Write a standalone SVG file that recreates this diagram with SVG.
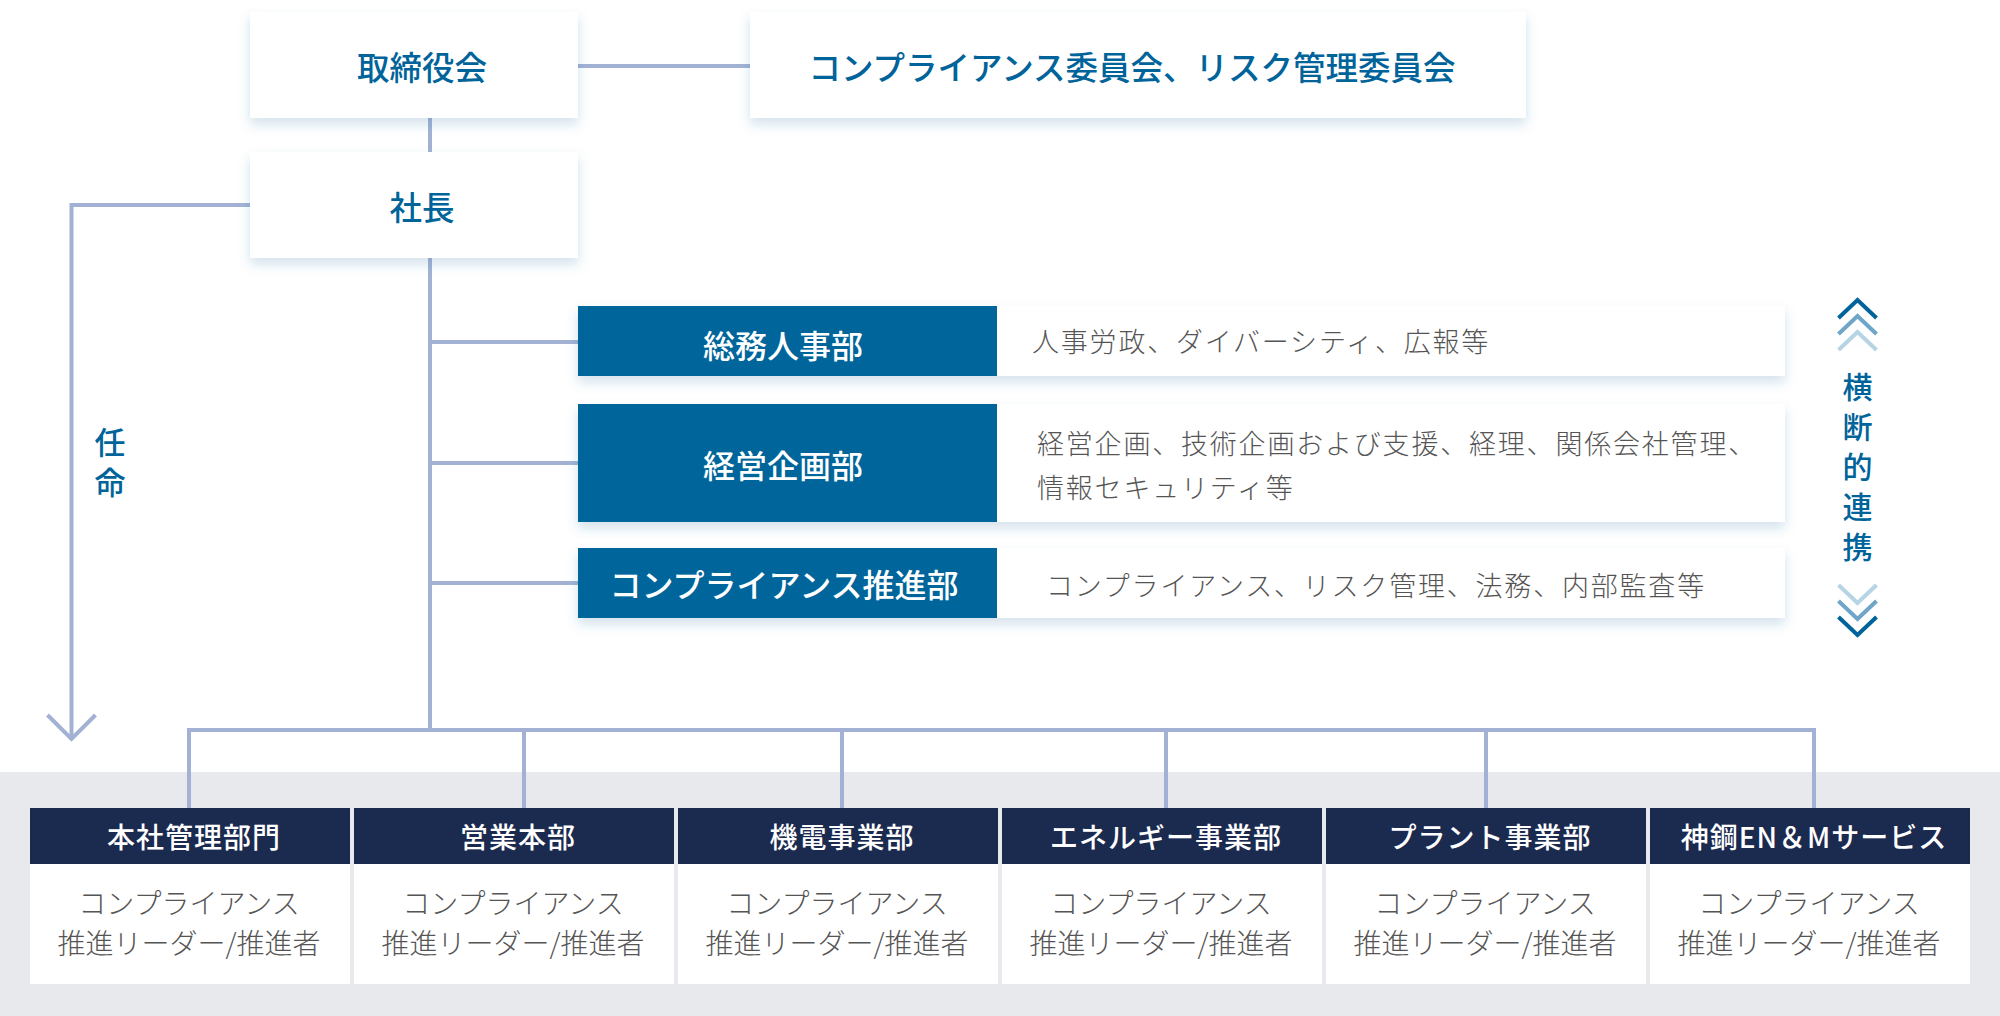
<svg xmlns="http://www.w3.org/2000/svg" width="2000" height="1016" viewBox="0 0 2000 1016">
<defs>
<filter id="sh" x="-10%" y="-30%" width="120%" height="170%">
<feDropShadow dx="0" dy="6" stdDeviation="6" flood-color="#2f6f9f" flood-opacity="0.2"/>
</filter>
<style>
text{font-family:"Noto Sans CJK JP","Noto Sans",sans-serif;}
.t{font-size:32.5px;fill:#00649a;font-weight:500;text-anchor:middle;}
.w{font-size:32px;fill:#fff;font-weight:500;text-anchor:middle;}
.d{font-size:27px;fill:#555;letter-spacing:1.8px;font-weight:300;}
.h{font-size:28px;fill:#fff;font-weight:500;text-anchor:middle;letter-spacing:1px;}
.b{font-size:28px;fill:#555;text-anchor:middle;font-weight:300;}
.v{fill:#00649a;font-weight:500;writing-mode:vertical-rl;}
.ln{stroke:#a3b2d4;stroke-width:4;fill:none;}
.card{fill:#fff;filter:url(#sh);}
.blue{fill:#00659a;}
.navy{fill:#1b2a4f;}
.cv{fill:none;stroke-width:4;}
</style>
</defs>
<rect x="0" y="0" width="2000" height="1016" fill="#fff"/>
<rect x="0" y="772" width="2000" height="244" fill="#e8e9ed"/>

<g id="connectors">
<line class="ln" x1="430" y1="118" x2="430" y2="152"/>
<line class="ln" x1="578" y1="66" x2="750" y2="66"/>
<polyline class="ln" points="250,205 71.5,205 71.5,739"/>
<polyline class="ln" points="47.5,715 71.5,739 95.5,715"/>
<line class="ln" x1="430" y1="258" x2="430" y2="732"/>
<line class="ln" x1="430" y1="342" x2="578" y2="342"/>
<line class="ln" x1="430" y1="463" x2="578" y2="463"/>
<line class="ln" x1="430" y1="583" x2="578" y2="583"/>
<polyline class="ln" points="189,808 189,730 1814,730 1814,808"/>
<line class="ln" x1="524" y1="730" x2="524" y2="808"/>
<line class="ln" x1="842" y1="730" x2="842" y2="808"/>
<line class="ln" x1="1166" y1="730" x2="1166" y2="808"/>
<line class="ln" x1="1486" y1="730" x2="1486" y2="808"/>
</g>

<g id="board">
<rect class="card" x="250" y="12" width="328" height="106"/>
<text class="t" x="422" y="80">取締役会</text>
</g>
<g id="committee">
<rect class="card" x="750" y="12" width="776" height="106"/>
<text class="t" x="1132" y="80">コンプライアンス委員会、リスク管理委員会</text>
</g>
<g id="president">
<rect class="card" x="250" y="152" width="328" height="106"/>
<text class="t" x="422" y="220">社長</text>
</g>
<g id="appoint">
<text class="v" x="110" y="427" style="font-size:31px;letter-spacing:8.5px">任命</text>
</g>

<g id="dept-general">
<rect class="card" x="578" y="306" width="1207" height="70"/>
<rect class="blue" x="578" y="306" width="419" height="70"/>
<text class="w" x="783" y="358">総務人事部</text>
<text class="d" x="1032" y="352">人事労政、ダイバーシティ、広報等</text>
</g>
<g id="dept-planning">
<rect class="card" x="578" y="404" width="1207" height="118"/>
<rect class="blue" x="578" y="404" width="419" height="118"/>
<text class="w" x="783" y="478">経営企画部</text>
<text class="d" x="1037" y="454">経営企画、技術企画および支援、経理、関係会社管理、</text>
<text class="d" x="1037" y="498">情報セキュリティ等</text>
</g>
<g id="dept-compliance">
<rect class="card" x="578" y="548" width="1207" height="70"/>
<rect class="blue" x="578" y="548" width="419" height="70"/>
<text class="w" x="784" y="597">コンプライアンス推進部</text>
<text class="d" x="1046" y="596">コンプライアンス、リスク管理、法務、内部監査等</text>
</g>

<g id="cross">
<polyline class="cv" stroke="#00649a" points="1838.5,318 1857.5,300 1876.5,318"/>
<polyline class="cv" stroke="#6fa5c8" points="1838.5,334 1857.5,316 1876.5,334"/>
<polyline class="cv" stroke="#b6d4e4" points="1838.5,350 1857.5,332 1876.5,350"/>
<text class="v" x="1857.5" y="371.5" style="font-size:30px;letter-spacing:10px">横断的連携</text>
<polyline class="cv" stroke="#b6d4e4" points="1838.5,585 1857.5,603 1876.5,585"/>
<polyline class="cv" stroke="#6fa5c8" points="1838.5,601 1857.5,619 1876.5,601"/>
<polyline class="cv" stroke="#00649a" points="1838.5,617 1857.5,635 1876.5,617"/>
</g>

<g id="unit-hq">
<rect fill="#fff" x="30" y="808" width="320" height="176"/>
<rect class="navy" x="30" y="808" width="320" height="56"/>
<text class="h" x="194" y="848">本社管理部門</text>
<text class="b" x="189" y="914">コンプライアンス</text>
<text class="b" x="189" y="954">推進リーダー/推進者</text>
</g>
<g id="unit-sales">
<rect fill="#fff" x="354" y="808" width="320" height="176"/>
<rect class="navy" x="354" y="808" width="320" height="56"/>
<text class="h" x="518" y="848">営業本部</text>
<text class="b" x="513" y="914">コンプライアンス</text>
<text class="b" x="513" y="954">推進リーダー/推進者</text>
</g>
<g id="unit-mech">
<rect fill="#fff" x="678" y="808" width="320" height="176"/>
<rect class="navy" x="678" y="808" width="320" height="56"/>
<text class="h" x="842" y="848">機電事業部</text>
<text class="b" x="837" y="914">コンプライアンス</text>
<text class="b" x="837" y="954">推進リーダー/推進者</text>
</g>
<g id="unit-energy">
<rect fill="#fff" x="1002" y="808" width="320" height="176"/>
<rect class="navy" x="1002" y="808" width="320" height="56"/>
<text class="h" x="1166" y="848">エネルギー事業部</text>
<text class="b" x="1161" y="914">コンプライアンス</text>
<text class="b" x="1161" y="954">推進リーダー/推進者</text>
</g>
<g id="unit-plant">
<rect fill="#fff" x="1326" y="808" width="320" height="176"/>
<rect class="navy" x="1326" y="808" width="320" height="56"/>
<text class="h" x="1490" y="848">プラント事業部</text>
<text class="b" x="1485" y="914">コンプライアンス</text>
<text class="b" x="1485" y="954">推進リーダー/推進者</text>
</g>
<g id="unit-enm">
<rect fill="#fff" x="1650" y="808" width="320" height="176"/>
<rect class="navy" x="1650" y="808" width="320" height="56"/>
<text class="h" x="1814" y="848">神鋼EN＆Mサービス</text>
<text class="b" x="1809" y="914">コンプライアンス</text>
<text class="b" x="1809" y="954">推進リーダー/推進者</text>
</g>
</svg>
